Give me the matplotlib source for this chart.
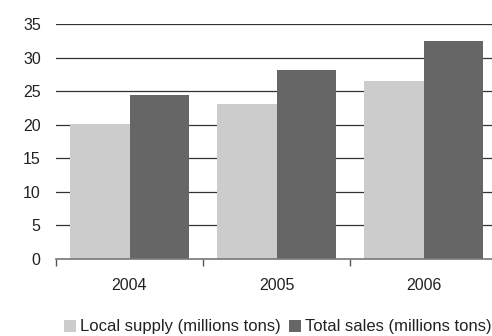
import matplotlib
matplotlib.use("Agg")
import matplotlib.pyplot as plt
import numpy as np

years = ["2004", "2005", "2006"]
local_supply = [20.1, 23.1, 26.5]
total_sales = [24.4, 28.2, 32.5]
series_names = ["Local supply (millions tons)", "Total sales (millions tons)"]
yticks = [0, 5, 10, 15, 20, 25, 30, 35]

plt.rcParams['font.family'] = ['Liberation Sans', 'DejaVu Sans']
fig = plt.figure(figsize=(4.92, 3.36), dpi=100)
ax = fig.add_axes([56/492, 77/336, 441/492, 235/336])

x = np.arange(len(years))
w = 0.405
ax.bar(x - w/2, local_supply, width=w, color="#cccccc", zorder=3, label=series_names[0])
ax.bar(x + w/2, total_sales, width=w, color="#666666", zorder=3, label=series_names[1])

ax.set_xlim(-0.5, len(years) - 0.5)
ax.set_ylim(0, 35)
ax.set_yticks(yticks)
ax.set_yticklabels([str(t) for t in yticks], fontsize=11.5, color="#222222")
ax.tick_params(axis='y', length=0, pad=11)
ax.set_xticks(x)
ax.set_xticklabels(years, fontsize=11.5, color="#222222")
ax.tick_params(axis='x', length=0, pad=14)
ax.set_xticks(np.arange(len(years) + 1) - 0.5, minor=True)
ax.tick_params(axis='x', which='minor', length=5, width=1, color="#555555", direction='out')

for t in yticks[1:]:
    ax.axhline(t, color="#333333", lw=0.9, zorder=1)

for s in ["top", "right", "left"]:
    ax.spines[s].set_visible(False)
ax.spines["bottom"].set_color("#777777")
ax.spines["bottom"].set_linewidth(1.2)
ax.spines["bottom"].set_zorder(4)

fig.legend(loc="center", bbox_to_anchor=(278/492, 9/336), ncol=2, frameon=False,
           fontsize=12, handlelength=0.7, handleheight=0.7, handletextpad=0.25,
           columnspacing=0.5, borderpad=0, labelcolor="#222222")

fig.savefig("out.png", dpi=100)
